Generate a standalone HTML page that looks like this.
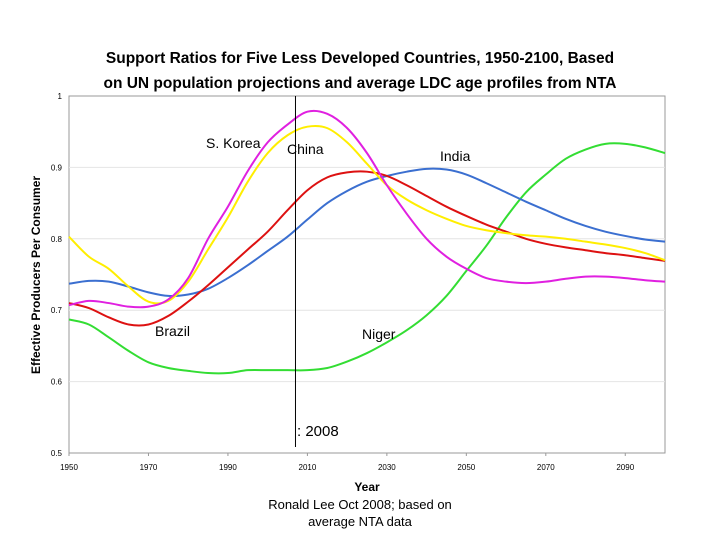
<!DOCTYPE html>
<html><head><meta charset="utf-8"><style>
body{margin:0;background:#fff;}
svg{display:block;font-family:"Liberation Sans",Arial,sans-serif;}
</style></head><body>
<svg id="chart" width="720" height="540">
<text x="360" y="63" text-anchor="middle" font-size="15.5" font-weight="bold">Support Ratios for Five Less Developed Countries, 1950-2100, Based</text>
<text x="360" y="88" text-anchor="middle" font-size="15.5" font-weight="bold">on UN population projections and average LDC age profiles from NTA</text>
<rect x="69" y="96" width="596" height="357" fill="none" stroke="#999" stroke-width="1"/>
<g id="grid"></g>
<g id="axes"></g>
<g id="series"></g>
<line id="vline" stroke="#000" stroke-width="1"/>
<text x="297" y="436" font-size="15">: 2008</text>
<text x="206" y="148" font-size="14">S. Korea</text>
<text x="287" y="154" font-size="14">China</text>
<text x="440" y="161" font-size="14">India</text>
<text x="155" y="336" font-size="14">Brazil</text>
<text x="362" y="339" font-size="14">Niger</text>
<text x="40" y="275" font-size="12" font-weight="bold" text-anchor="middle" transform="rotate(-90 40 275)">Effective Producers Per Consumer</text>
<text x="367" y="491" font-size="12" font-weight="bold" text-anchor="middle">Year</text>
<text x="360" y="509" font-size="13" text-anchor="middle">Ronald Lee Oct 2008; based on</text>
<text x="360" y="526" font-size="13" text-anchor="middle">average NTA data</text>
</svg>
<script>
const years=[1950,1955,1960,1965,1970,1975,1980,1985,1990,1995,2000,2005,2010,2015,2020,2025,2030,2035,2040,2045,2050,2055,2060,2065,2070,2075,2080,2085,2090,2095,2100];
const india=[0.737,0.741,0.740,0.733,0.725,0.720,0.722,0.730,0.745,0.763,0.783,0.803,0.827,0.850,0.867,0.880,0.888,0.894,0.898,0.897,0.890,0.878,0.865,0.852,0.840,0.828,0.818,0.810,0.804,0.799,0.796];
const korea=[0.707,0.713,0.710,0.705,0.705,0.715,0.745,0.800,0.845,0.895,0.935,0.960,0.978,0.975,0.955,0.920,0.875,0.835,0.800,0.775,0.758,0.745,0.740,0.738,0.740,0.744,0.747,0.747,0.745,0.742,0.740];
const china=[0.803,0.775,0.758,0.733,0.712,0.713,0.740,0.785,0.830,0.880,0.920,0.945,0.957,0.955,0.935,0.905,0.875,0.855,0.840,0.828,0.818,0.812,0.808,0.805,0.803,0.800,0.796,0.792,0.787,0.780,0.770];
const brazil=[0.710,0.703,0.690,0.680,0.680,0.692,0.712,0.735,0.760,0.785,0.810,0.840,0.868,0.886,0.893,0.894,0.888,0.875,0.860,0.845,0.832,0.820,0.810,0.800,0.793,0.788,0.784,0.780,0.777,0.773,0.769];
const niger=[0.687,0.680,0.662,0.643,0.627,0.619,0.615,0.612,0.612,0.616,0.616,0.616,0.616,0.619,0.628,0.640,0.655,0.672,0.693,0.720,0.755,0.790,0.830,0.865,0.890,0.912,0.925,0.933,0.933,0.928,0.920];
const yTicks=[0.5,0.6,0.7,0.8,0.9,1];
const yTickLabels=["0.5","0.6","0.7","0.8","0.9","1"];
const xTicks=[1950,1970,1990,2010,2030,2050,2070,2090];
const markerYear=2007;
const X=v=>69+(v-1950)/150*596;
const Y=v=>453-(v-0.5)/0.5*357;
const NS="http://www.w3.org/2000/svg";
function mk(tag,attrs,parent){const e=document.createElementNS(NS,tag);for(const k in attrs)e.setAttribute(k,attrs[k]);document.getElementById(parent).appendChild(e);return e;}
yTicks.forEach((t,i)=>{
  if(t>0.5&&t<1){const g=mk('line',{x1:69,x2:665,y1:Y(t),y2:Y(t),stroke:'#e4e4e4'},'grid');
  
  }
  const l=mk('text',{x:62,y:Y(t)+3,'font-size':8,'text-anchor':'end'},'axes');l.textContent=yTickLabels[i];
  
  
});
xTicks.forEach(t=>{
  const l=mk('text',{x:X(t),y:470,'font-size':8,'text-anchor':'middle'},'axes');l.textContent=t;
  
  
  const k=mk('line',{x1:X(t),x2:X(t),y1:453,y2:456,stroke:'#999'},'axes');
  
  
});
function path(vals){
  const p=vals.map((v,i)=>[X(years[i]),Y(v)]);
  let d='M'+p[0][0]+','+p[0][1];
  for(let i=0;i<p.length-1;i++){
    const p0=p[i-1]||p[i],p1=p[i],p2=p[i+1],p3=p[i+2]||p2;
    d+=' C'+(p1[0]+(p2[0]-p0[0])/6)+','+(p1[1]+(p2[1]-p0[1])/6)+' '+(p2[0]-(p3[0]-p1[0])/6)+','+(p2[1]-(p3[1]-p1[1])/6)+' '+p2[0]+','+p2[1];
  }
  return d;
}
[[niger,'#33dd33','line-niger'],[india,'#3b6fd0','line-india'],[brazil,'#dd1111','line-brazil'],[china,'#ffee00','line-china'],[korea,'#e020e0','line-s-korea']].forEach(s=>{
  const e=mk('path',{d:path(s[0]),fill:'none',stroke:s[1],'stroke-width':2},'series');
  
  
});
const v=document.getElementById('vline');
v.setAttribute('x1',X(markerYear));v.setAttribute('x2',X(markerYear));v.setAttribute('y1',96);v.setAttribute('y2',447);
</script>
</body></html>
